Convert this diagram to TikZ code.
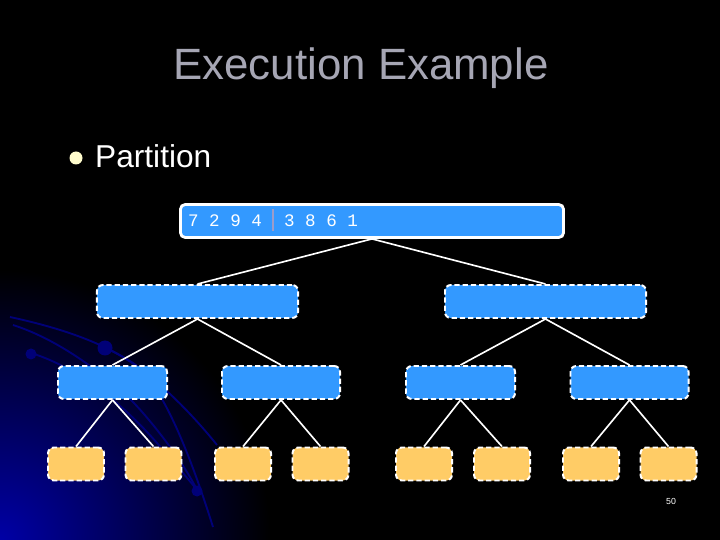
\documentclass[tikz,border=0pt]{standalone}
\usepackage{fontspec}
\setmainfont{Liberation Sans}
\newfontfamily\digitfont{Liberation Mono}
\usetikzlibrary{positioning}
\definecolor{boxblue}{HTML}{3399FF}
\definecolor{boxorange}{HTML}{FFCC66}
\definecolor{titlegray}{HTML}{A6A6B4}
\definecolor{swoosh}{HTML}{000078}
\tikzset{
  active/.style={rectangle,draw=white,line width=2.4pt,rounded corners=4pt,fill=boxblue,minimum width=383pt*0.8536,minimum height=33pt*0.8536,inner sep=0pt},
  waiting/.style={rectangle,draw=white,line width=1.7pt,dash pattern=on 4.5pt off 2.5pt,rounded corners=5pt,fill=boxblue,minimum height=33pt*0.8536,inner sep=0pt},
  leaf/.style={waiting,fill=boxorange,minimum width=56pt*0.8536},
  link/.style={draw=white,line width=1.4pt},
  arc/.style={draw=swoosh,line width=1.6pt},
  digits/.style={font=\digitfont\fontsize{15}{18}\selectfont,text=white,inner sep=0pt}
}
\begin{document}
\begin{tikzpicture}[x=0.03cm,y=-0.03cm]
\useasboundingbox (0,0) rectangle (720,540);
\fill[black] (0,0) rectangle (720,540);
\begin{scope}
\clip (0,0) rectangle (720,540);
\shade[inner color=blue!65!black,outer color=black] (0,540) circle (270);
\draw[arc] (10,317) .. controls (70,330) and (105,345) .. (133,363) .. controls (165,385) and (195,470) .. (213,527);
\draw[arc] (13,325) .. controls (60,340) and (105,375) .. (133,402) .. controls (155,425) and (185,465) .. (197,490);
\draw[arc] (31,353) .. controls (70,365) and (115,395) .. (157,443) .. controls (170,458) and (185,475) .. (197,490);
\draw[arc] (105,348) .. controls (140,362) and (185,405) .. (217,445);
\fill[swoosh] (105,348) circle (7.5);
\fill[swoosh] (31,354) circle (5.5);
\fill[swoosh] (197,491) circle (5.5);
\end{scope}

\node[font=\fontsize{37.4}{44}\selectfont,text=titlegray] (title) at (361,68) {Execution Example};
\fill[yellow!20] (76,158) circle (6.5);
\node[font=\fontsize{27}{32}\selectfont,text=white,anchor=west,inner sep=0pt] (item) at (95,156) {Partition};

% top row
\node[active] (root) at (372,221) {};
\node[digits] (left) at (225,221) {7 2 9 4};
\node[digits] (right) at (321,221) {3 8 6 1};
\coordinate (bartop) at (273,209);
\coordinate (barbot) at (273,231);
\draw[gray!70!blue!60,line width=1pt] (bartop) -- (barbot);

% second row
\node[waiting,minimum width=201pt*0.8536] (la) at (197.5,301.5) {};
\node[waiting,minimum width=201pt*0.8536] (lb) at (545.5,301.5) {};

% third row
\node[waiting,minimum width=109pt*0.8536] (laa) at (112.5,382.5) {};
\node[waiting,minimum width=118pt*0.8536] (lab) at (281,382.5) {};
\node[waiting,minimum width=109pt*0.8536] (lba) at (460.5,382.5) {};
\node[waiting,minimum width=118pt*0.8536] (lbb) at (629.5,382.5) {};

% last row
\node[leaf] (laaa) at (76,464) {};
\node[leaf] (laab) at (153.5,464) {};
\node[leaf] (laba) at (243,464) {};
\node[leaf] (labb) at (320.5,464) {};
\node[leaf] (lbaa) at (424,464) {};
\node[leaf] (lbab) at (502,464) {};
\node[leaf] (lbba) at (591,464) {};
\node[leaf] (lbbb) at (668.5,464) {};

\draw[link] (root.south) -- (la.north);
\draw[link] (root.south) -- (lb.north);
\draw[link] (la.south) -- (laa.north);
\draw[link] (la.south) -- (lab.north);
\draw[link] (lb.south) -- (lba.north);
\draw[link] (lb.south) -- (lbb.north);
\draw[link] (laa.south) -- (laaa.north);
\draw[link] (laa.south) -- (laab.north);
\draw[link] (lab.south) -- (laba.north);
\draw[link] (lab.south) -- (labb.north);
\draw[link] (lba.south) -- (lbaa.north);
\draw[link] (lba.south) -- (lbab.north);
\draw[link] (lbb.south) -- (lbba.north);
\draw[link] (lbb.south) -- (lbbb.north);

\node[font=\fontsize{7.5}{9}\selectfont,text=white] (page) at (671,501) {50};
\end{tikzpicture}
\end{document}
